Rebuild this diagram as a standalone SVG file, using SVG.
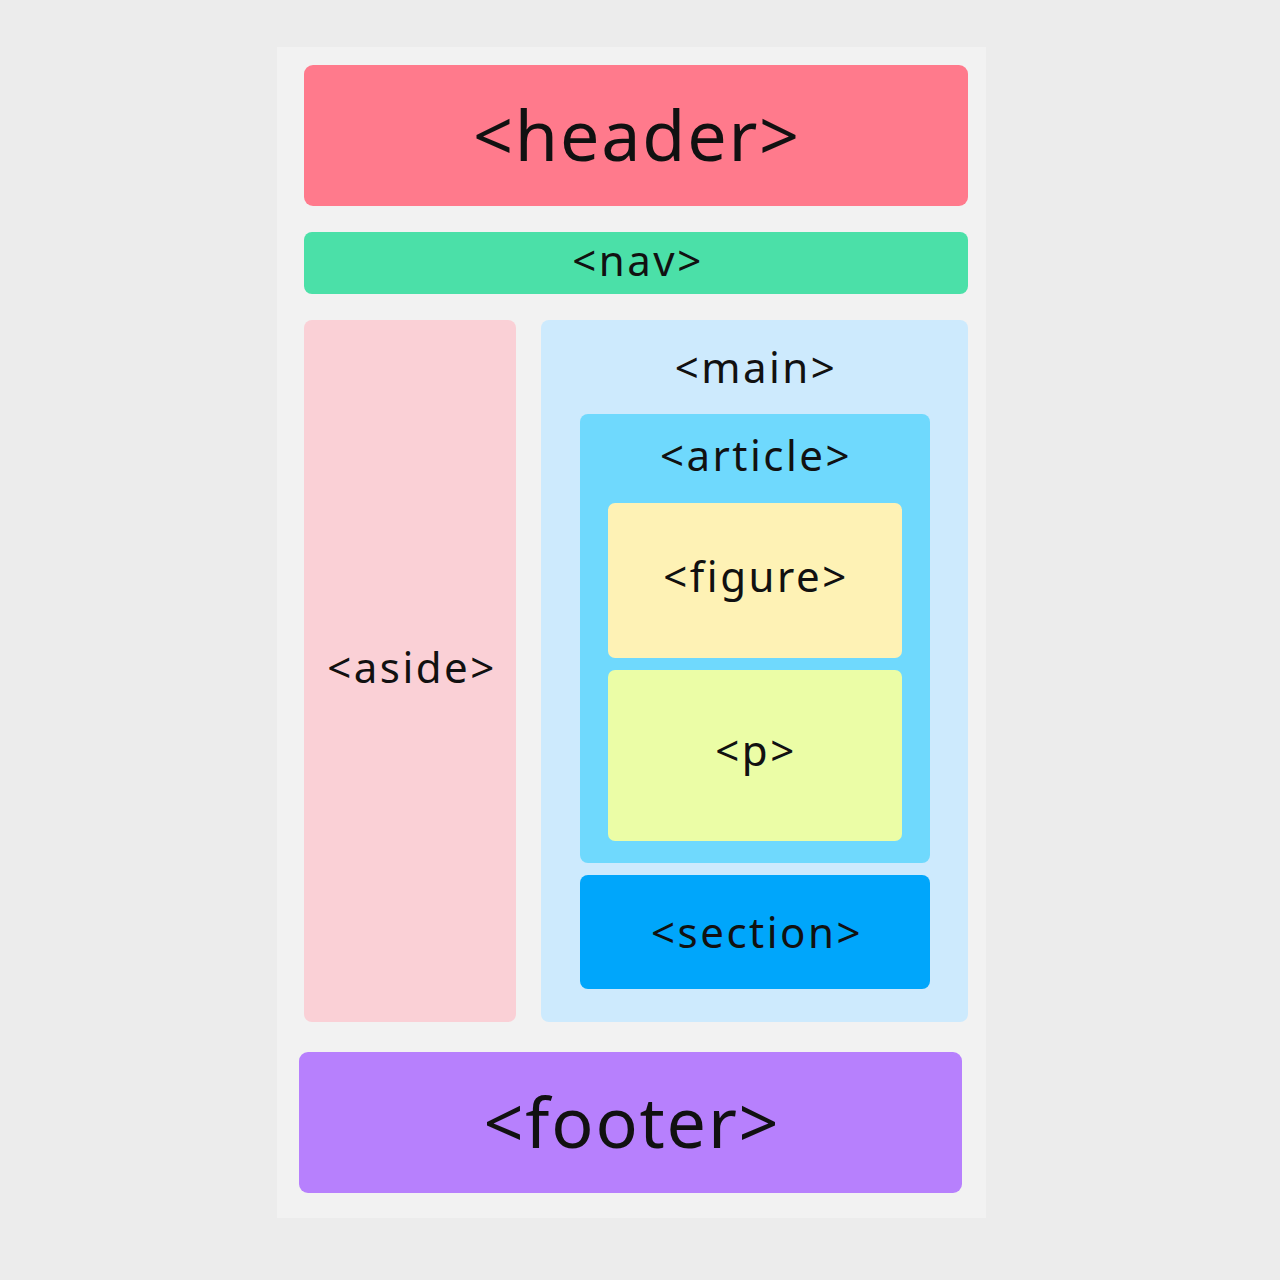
<svg xmlns="http://www.w3.org/2000/svg" width="1280" height="1280" viewBox="0 0 1280 1280">
<style>
text{font-family:"Noto Sans","Liberation Sans",sans-serif;fill:#111;text-anchor:middle}
.big{font-size:70px;letter-spacing:1.8px}
.mid{font-size:42px;letter-spacing:2.5px}
</style>
<rect x="0" y="0" width="1280" height="1280" fill="#ececec"/>
<rect x="277" y="47" width="709" height="1171" fill="#f2f2f2"/>
<g id="header"><rect x="304" y="65" width="664" height="141" rx="9" fill="#ff7a8c"/><text class="big" x="637" y="161">&lt;header&gt;</text></g>
<g id="nav"><rect x="304" y="232" width="664" height="62" rx="8" fill="#4be0a8"/><text class="mid" x="638" y="276">&lt;nav&gt;</text></g>
<g id="aside"><rect x="304" y="320" width="212" height="702" rx="8" fill="#fad0d6"/><text class="mid" x="412" y="683">&lt;aside&gt;</text></g>
<g id="main"><rect x="541" y="320" width="427" height="702" rx="8" fill="#cdeafd"/><text class="mid" x="756" y="383">&lt;main&gt;</text></g>
<g id="article"><rect x="580" y="414" width="350" height="449" rx="8" fill="#6fd9fd"/><text class="mid" x="756" y="471">&lt;article&gt;</text></g>
<g id="figure"><rect x="608" y="503" width="294" height="155" rx="7" fill="#fef2b5"/><text class="mid" x="756" y="592">&lt;figure&gt;</text></g>
<g id="p"><rect x="608" y="670" width="294" height="171" rx="7" fill="#ebfda6"/><text class="mid" x="756" y="766">&lt;p&gt;</text></g>
<g id="section"><rect x="580" y="875" width="350" height="114" rx="8" fill="#00a6fb"/><text class="mid" x="757" y="948">&lt;section&gt;</text></g>
<g id="footer"><rect x="299" y="1052" width="663" height="141" rx="9" fill="#b780fd"/><text class="big" x="632" y="1148">&lt;footer&gt;</text></g>
<g id="connectors"/>
</svg>
